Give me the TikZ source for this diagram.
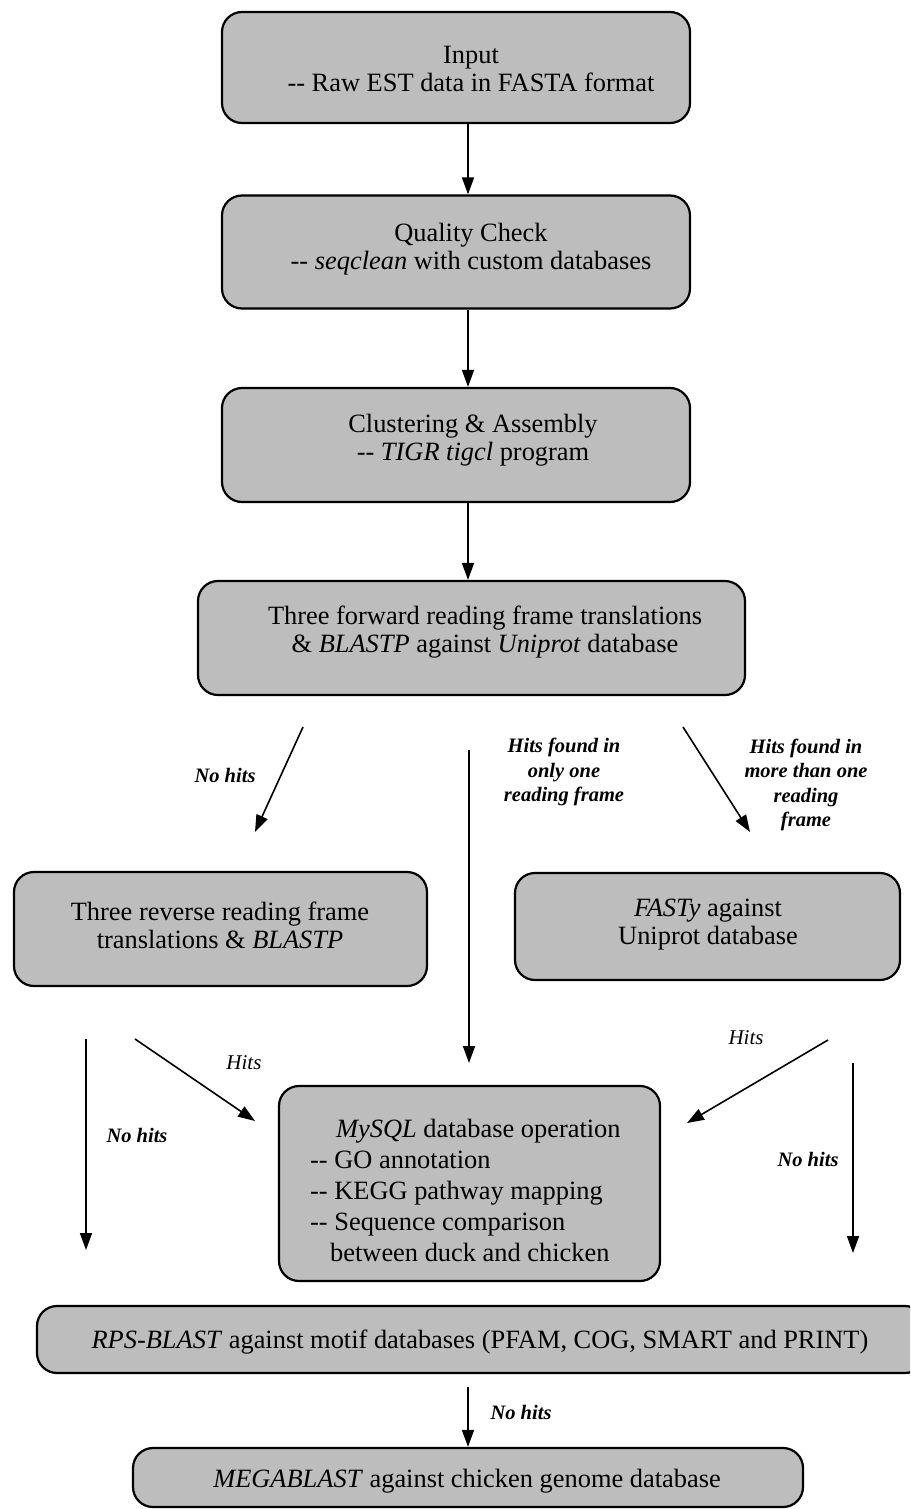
\documentclass[tikz,border=0pt]{standalone}
\usepackage{fontspec}
\setmainfont{Liberation Serif}
\usetikzlibrary{arrows.meta,calc}
\definecolor{boxgray}{gray}{0.74}
\begin{document}
\begin{tikzpicture}[x=1pt,y=-1pt,
  box/.style={draw=black,line width=2.2pt,rounded corners=20pt,fill=boxgray,inner sep=0pt},
  txt/.style={align=center,font=\fontsize{26.4}{28}\selectfont,inner sep=0pt},
  lab/.style={align=center,font=\fontsize{20.5}{24.5}\selectfont\bfseries\itshape,inner sep=0pt},
  hlab/.style={font=\fontsize{21}{25}\selectfont\itshape,inner sep=0pt},
  arr/.style={line width=1.6pt,-{Triangle[length=17pt,width=12pt]}}]
\clip (0,0) rectangle (910,1509);
\fill[white] (0,0) rectangle (910,1509);
\coordinate (xa) at (468,0);

% boxes
\node[box,minimum width=468,minimum height=111] (input) at (456,67.5) {};
\node[txt] (inputt) at (471,68.5) {Input\\-{}- Raw EST data in FASTA format};

\node[box,minimum width=468,minimum height=113] (quality) at (456,252) {};
\node[txt] (qualityt) at (471,249) {Quality Check\\-{}- \textit{seqclean} with custom databases};

\node[box,minimum width=468,minimum height=114] (clust) at (456,445) {};
\node[txt] (clustt) at (473,440) {Clustering \& Assembly\\-{}- \textit{TIGR tigcl} program};

\node[box,minimum width=547,minimum height=114] (fwd) at (471.5,638) {};
\node[txt] (fwdt) at (485,632) {Three forward reading frame translations\\\& \textit{BLASTP} against \textit{Uniprot} database};

\node[box,minimum width=413,minimum height=114] (rev) at (220.5,929) {};
\node[txt] (revt) at (220,925) {Three reverse reading frame\\translations \& \textit{BLASTP}};

\node[box,minimum width=385,minimum height=107] (fasty) at (707.5,926.5) {};
\node[txt] (fastyt) at (708,925) {\textit{FASTy} against\\Uniprot database};

\node[box,minimum width=381,minimum height=195] (mysql) at (469.5,1183.5) {};
\node[txt,align=left,anchor=west,font=\fontsize{26.4}{31}\selectfont] (mysqlt) at (310,1190)
  {\hspace*{26pt}\textit{MySQL} database operation\\-{}- GO annotation\\-{}- KEGG pathway mapping\\-{}- Sequence comparison\\\hspace*{20pt}between duck and chicken};

\node[box,minimum width=888,minimum height=67] (rps) at (481,1339.5) {};
\node[txt] (rpst) at (480,1342) {\textit{RPS-BLAST} against motif databases (PFAM, COG, SMART and PRINT)};

\node[box,minimum width=670,minimum height=59] (mega) at (468,1477.5) {};
\node[txt] (megat) at (467,1481) {\textit{MEGABLAST} against chicken genome database};

% main column arrows
\draw[arr] (input.south -| xa) -- (quality.north -| xa);
\draw[arr] (quality.south -| xa) -- (clust.north -| xa);
\draw[arr] (clust.south -| xa) -- (fwd.north -| xa);

% branches
\coordinate (b1s) at (303,727);
\coordinate (b1e) at (255,832);
\draw[arr] (b1s) -- (b1e);
\node[lab] (l1) at (225,775) {No hits};

\coordinate (b2s) at (469,750);
\coordinate (b2e) at (469,1063);
\draw[arr] (b2s) -- (b2e);
\node[lab] (l2) at (564,772) {Hits found in\\only one\\reading frame};

\coordinate (b3s) at (683,727);
\coordinate (b3e) at (750,832);
\draw[arr] (b3s) -- (b3e);
\node[lab] (l3) at (806,785) {Hits found in\\more than one\\reading\\frame};

% from reverse
\coordinate (r1s) at (86,1039);
\coordinate (r1e) at (86,1250);
\draw[arr] (r1s) -- (r1e);
\node[lab] (l4) at (137,1135) {No hits};

\coordinate (r2s) at (135,1039);
\coordinate (r2e) at (255,1121);
\draw[arr] (r2s) -- (r2e);
\node[hlab] (l5) at (244,1063) {Hits};

% from fasty
\coordinate (f1s) at (828,1040);
\coordinate (f1e) at (687,1123);
\draw[arr] (f1s) -- (f1e);
\node[hlab] (l6) at (746,1038) {Hits};

\coordinate (f2s) at (853,1063);
\coordinate (f2e) at (853,1253);
\draw[arr] (f2s) -- (f2e);
\node[lab] (l7) at (808,1159) {No hits};

% rps to mega
\coordinate (m1s) at (468,1387);
\draw[arr] (m1s) -- (mega.north -| xa);
\node[lab] (l8) at (521,1412) {No hits};
\end{tikzpicture}
\end{document}
